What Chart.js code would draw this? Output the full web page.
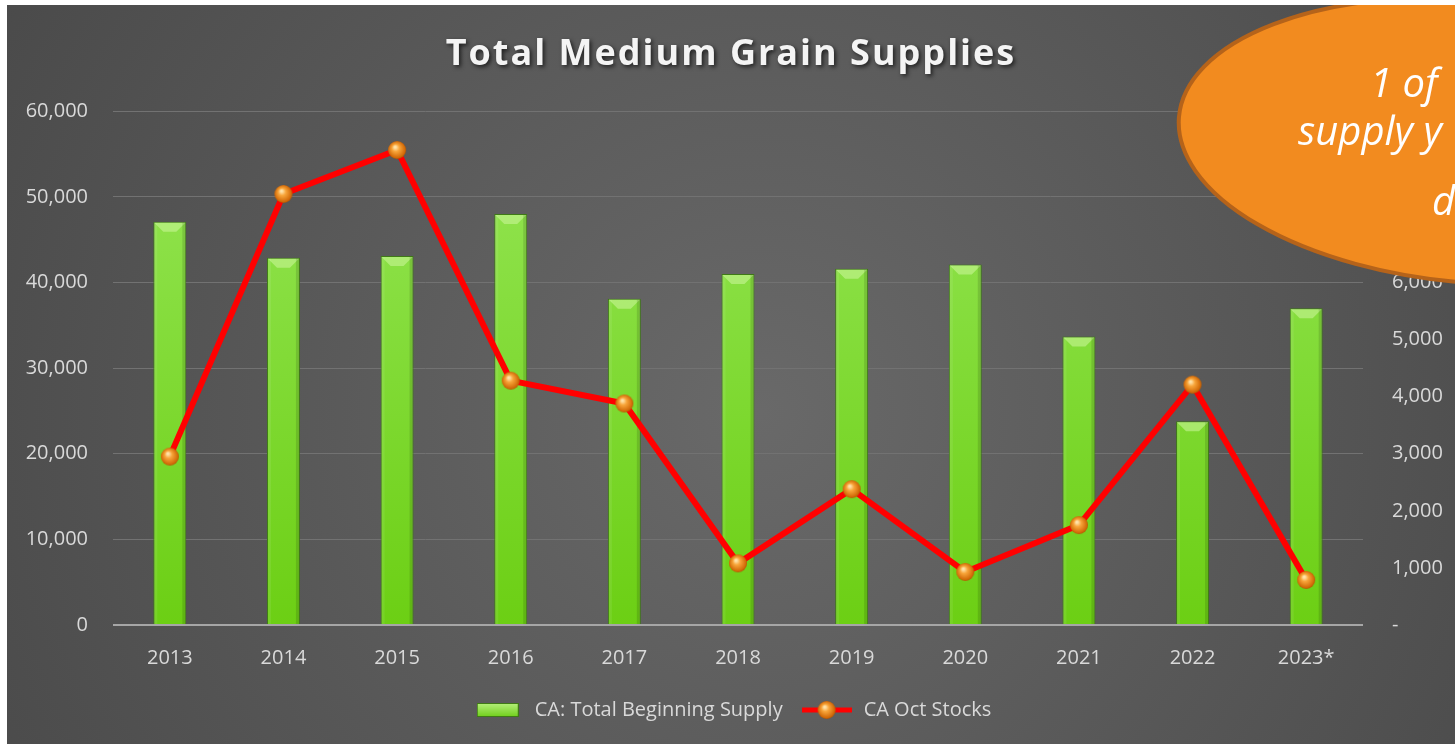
<!DOCTYPE html>
<html>
<head>
<meta charset="utf-8">
<script src="https://cdn.jsdelivr.net/npm/chart.js@4/dist/chart.umd.min.js"></script>
<style>
body{margin:0;background:#fff;width:1455px;height:744px;overflow:hidden}
#wrap{position:absolute;left:7px;top:5px;width:1448px;height:739px}
</style>
</head>
<body>
<div id="wrap"><canvas id="supplyChart"></canvas></div>
<script>

// values
let years = ["2013","2014","2015","2016","2017","2018","2019","2020","2021","2022","2023*"]
let beginningSupply = [47100,42900,43100,48000,38100,41000,41600,42100,33700,23800,37000]
let octStocks = [2950,7550,8320,4280,3880,1080,2380,930,1750,4210,790]
let leftMax = 60000, leftStep = 10000
let rightMax = 9000, rightStep = 1000
let noteLines = ["1 of","supply y","d"]

let font = "'Open Sans', 'Noto Sans', sans-serif"

// orange ball used as the point marker
function makeBall(){
let c = document.createElement("canvas")
c.width = 20; c.height = 20
let g = c.getContext("2d")
let rg = g.createRadialGradient(8,7,1,10,10,10)
rg.addColorStop(0,"#ffe2a8")
rg.addColorStop(0.3,"#f8a53a")
rg.addColorStop(0.8,"#d26a08")
rg.addColorStop(1,"#9a4600")
g.fillStyle = rg
g.beginPath(); g.arc(10,10,9,0,Math.PI*2); g.fill()
return c
}
let ball = makeBall()

function makeBarSwatch(){
let c = document.createElement("canvas")
c.width = 42; c.height = 14
let g = c.getContext("2d")
let lg = g.createLinearGradient(0,0,0,14)
lg.addColorStop(0,"#b6f07c")
lg.addColorStop(1,"#6fcf1a")
g.fillStyle = lg
g.fillRect(0,0,42,14)
g.strokeStyle = "#3f7a16"
g.lineWidth = 1
g.strokeRect(0.5,0.5,41,13)
return c
}

function makeLineSwatch(){
let c = document.createElement("canvas")
c.width = 50; c.height = 20
let g = c.getContext("2d")
g.strokeStyle = "#ff0000"
g.lineWidth = 5
g.beginPath(); g.moveTo(0,10); g.lineTo(50,10); g.stroke()
g.drawImage(ball,15,0)
return c
}
let barSwatch = makeBarSwatch()
let lineSwatch = makeLineSwatch()

let bgPlugin = {
id:"bg",
beforeDraw(chart){
let ctx = chart.ctx
let w = chart.width, h = chart.height
let rg = ctx.createRadialGradient(w*0.52,h*0.55,0,w*0.52,h*0.55,w*0.62)
rg.addColorStop(0,"#696969")
rg.addColorStop(1,"#494949")
ctx.save()
ctx.fillStyle = rg
ctx.fillRect(0,0,w,h)
ctx.restore()
}
}

// light bevel at the top of each bar
let bevelPlugin = {
id:"bevel",
afterDatasetDraw(chart,args){
if(args.index!==0) return
let ctx = chart.ctx
args.meta.data.forEach(b=>{
let p = b.getProps(["x","y","width","base"],true)
let l = p.x-p.width/2, r = p.x+p.width/2, t = p.y, d = 10
ctx.save()
ctx.fillStyle = "rgba(200,245,150,0.6)"
ctx.beginPath()
ctx.moveTo(l+1,t+1); ctx.lineTo(r-1,t+1); ctx.lineTo(r-d,t+d); ctx.lineTo(l+d,t+d)
ctx.closePath(); ctx.fill()
ctx.fillStyle = "rgba(0,0,0,0.12)"
ctx.fillRect(r-4,t+1,3,p.base-t-1)
ctx.fillStyle = "rgba(255,255,255,0.08)"
ctx.fillRect(l+1,t+1,3,p.base-t-1)
ctx.restore()
})
}
}

// title shadow + callout ellipse
let extrasPlugin = {
id:"extras",
afterInit(chart){
let tb = chart.titleBlock
let orig = tb.draw.bind(tb)
tb.draw = function(){
let ctx = chart.ctx
ctx.save()
ctx.shadowColor = "rgba(0,0,0,0.65)"
ctx.shadowBlur = 4
ctx.shadowOffsetX = 2
ctx.shadowOffsetY = 2
ctx.letterSpacing = "2px"
orig()
ctx.restore()
}
},
afterDraw(chart){
let ctx = chart.ctx
ctx.save()
ctx.beginPath()
ctx.ellipse(1468,136,297,142,0.08,0,Math.PI*2)
ctx.fillStyle = "#f28b1f"
ctx.fill()
ctx.lineWidth = 4
ctx.strokeStyle = "#b5631a"
ctx.stroke()
ctx.fillStyle = "#ffffff"
ctx.font = "italic 40px " + font
ctx.textBaseline = "alphabetic"
ctx.fillText(noteLines[0],1363,92)
ctx.fillText(noteLines[1],1291,140)
ctx.fillText(noteLines[2],1425,210)
ctx.restore()
}
}

new Chart(document.getElementById("supplyChart"),{

type:"bar",

data:{
labels:years,
datasets:[
{
type:"bar",
label:"CA: Total Beginning Supply",
data:beginningSupply,
yAxisID:"y",
order:1,
backgroundColor:(c)=>{
let a = c.chart.chartArea
if(!a) return "#80d830"
let g = c.chart.ctx.createLinearGradient(0,a.top,0,a.bottom)
g.addColorStop(0,"#96e657")
g.addColorStop(1,"#6ccf14")
return g
},
borderColor:"#3f7a16",
borderWidth:1,
barPercentage:0.29,
categoryPercentage:1
},
{
type:"line",
label:"CA Oct Stocks",
data:octStocks,
yAxisID:"y1",
order:0,
borderColor:"#ff0000",
borderWidth:6,
pointStyle:ball,
pointRadius:9,
pointHoverRadius:9,
tension:0
}
]
},

options:{
responsive:true,
maintainAspectRatio:false,
animation:false,
layout:{padding:{left:0,right:0,top:0,bottom:14}},
plugins:{
title:{
display:true,
text:"Total Medium Grain Supplies",
color:"#f4f4f4",
font:{family:font,size:36,weight:"bold"},
padding:{top:28,bottom:35}
},
legend:{
position:"bottom",
labels:{
color:"#d9d9d9",
font:{family:font,size:20},
usePointStyle:true,
pointStyleWidth:54,
padding:17,
generateLabels(chart){
let items = Chart.defaults.plugins.legend.labels.generateLabels(chart)
items.sort((a,b)=>a.datasetIndex-b.datasetIndex)
items.forEach(i=>{
i.fontColor = "#d9d9d9"
i.pointStyle = i.datasetIndex===0 ? barSwatch : lineSwatch
})
return items
}
}
},
tooltip:{enabled:false}
},
scales:{
x:{
grid:{display:false},
border:{display:false},
ticks:{color:"#d9d9d9",font:{family:font,size:20},padding:13}
},
y:{
position:"left",
min:0,
max:leftMax,
afterFit(s){s.width = 106},
border:{display:false},
grid:{
drawTicks:false,
color:(c)=>c.tick && c.tick.value===0 ? "#a6a6a6" : "#727272",
lineWidth:(c)=>c.tick && c.tick.value===0 ? 2 : 1
},
ticks:{
stepSize:leftStep,
color:"#d9d9d9",
font:{family:font,size:20},
padding:25,
callback:(v)=>v.toLocaleString("en-US")
}
},
y1:{
position:"right",
min:0,
max:rightMax,
afterFit(s){s.width = 92},
border:{display:false},
grid:{display:false,drawTicks:false},
ticks:{
stepSize:rightStep,
color:"#d9d9d9",
font:{family:font,size:20},
padding:29,
callback:(v)=>v===0 ? "-" : v.toLocaleString("en-US")
}
}
}
},

plugins:[bgPlugin,bevelPlugin,extrasPlugin]

})

</script>
</body>
</html>
